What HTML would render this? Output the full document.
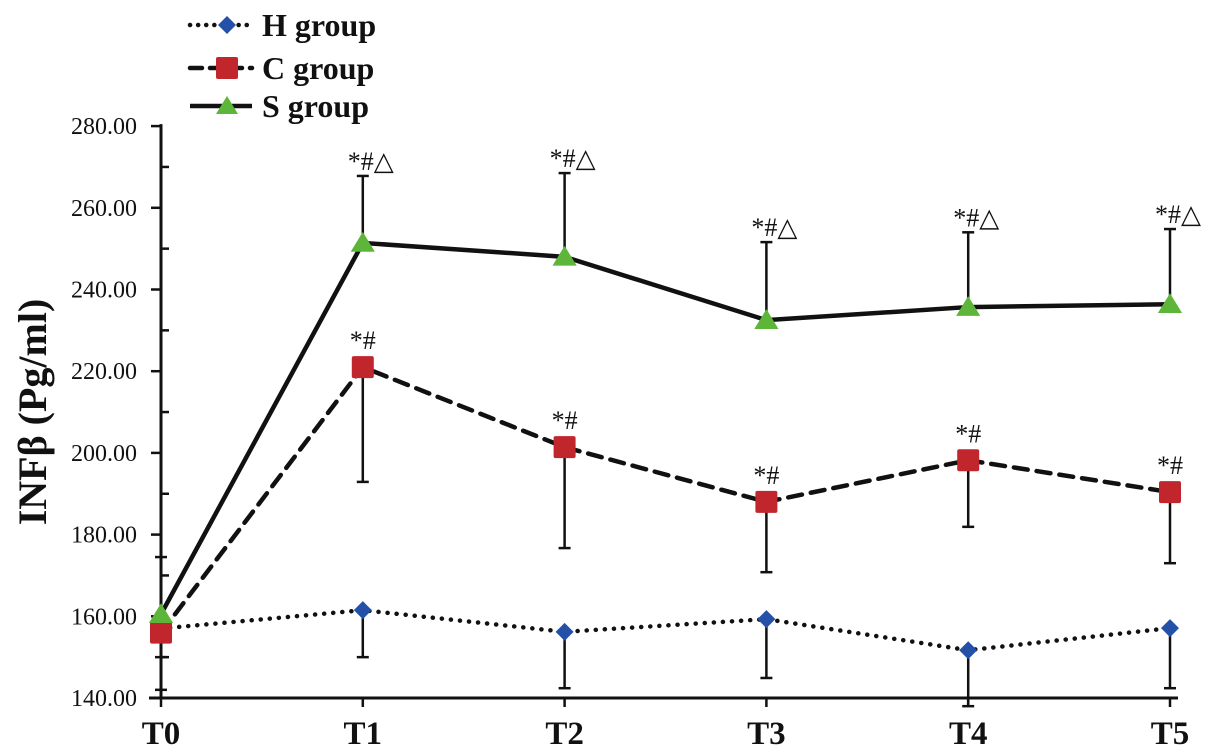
<!DOCTYPE html>
<html><head><meta charset="utf-8"><style>
html,body{margin:0;padding:0;background:#fff;width:1205px;height:756px;overflow:hidden}
svg{display:block}
.tk{font-family:"Liberation Serif","Noto Serif CJK SC",serif;font-size:24px;fill:#111}
.xl{font-family:"Liberation Serif",serif;font-size:33px;font-weight:bold;fill:#111}
.lg{font-family:"Liberation Serif",serif;font-size:32px;font-weight:bold;fill:#111}
.yt{font-family:"Liberation Serif",serif;font-size:40px;font-weight:bold;fill:#111}
.an{font-family:"Liberation Serif","DejaVu Sans",serif;font-size:26px;fill:#111}
</style></head><body>
<svg id="c" width="1205" height="756"></svg>
<script>
const categories=["T0","T1","T2","T3","T4","T5"];
const yTicks=[140,160,180,200,220,240,260,280];
const hVals=[157,161.5,156.2,159.3,151.7,157.1];
const hLow=[142,150,142.4,144.9,138,142.4];
const cVals=[156,221,201.4,188,198.2,190.4];
const cLow=[150,192.9,176.7,170.8,181.9,173];
const sVals=[160.5,251.4,248,232.5,235.7,236.4];
const sHigh=[174.5,267.8,268.5,251.6,254,254.8];
const cAnn=["","*#","*#","*#","*#","*#"];
const sAnn=["","*#△","*#△","*#△","*#△","*#△"];
const NS="http://www.w3.org/2000/svg";
const svg=document.getElementById('c');
const X0=161,DX=201.8,Y0=698,YPX=81.7/20;
const x=i=>X0+i*DX, y=v=>Y0-(v-140)*YPX;
function mk(t,a,p){const e=document.createElementNS(NS,t);for(const k in a)e.setAttribute(k,a[k]);(p||svg).appendChild(e);return e;}
let ax=mk('line',{x1:X0,y1:y(280)-2,x2:X0,y2:Y0,stroke:'#111','stroke-width':3});


let bx=mk('line',{x1:X0-12,y1:Y0,x2:x(5)+8,y2:Y0,stroke:'#111','stroke-width':3});


yTicks.forEach(v=>{
 mk('line',{x1:X0-10,y1:y(v),x2:X0,y2:y(v),stroke:'#111','stroke-width':2.5});
 if(v<280) mk('line',{x1:X0,y1:y(v+10),x2:X0+8,y2:y(v+10),stroke:'#111','stroke-width':2.5});
 const t=mk('text',{x:X0-24,y:y(v)+8,'text-anchor':'end',class:'tk'});t.textContent=v.toFixed(2);
 
 
});
categories.forEach((c,i)=>{
 mk('line',{x1:x(i),y1:Y0,x2:x(i),y2:Y0+9,stroke:'#111','stroke-width':2.5});
 const t=mk('text',{x:x(i),y:Y0+46,'text-anchor':'middle',class:'xl'});t.textContent=c;
 
 
});
const yl=mk('text',{x:0,y:0,transform:'translate(46,412) rotate(-90)','text-anchor':'middle',class:'yt'});yl.textContent='INFβ (Pg/ml)';


function err(vals,ends){vals.forEach((v,i)=>{
 mk('line',{x1:x(i),y1:y(v),x2:x(i),y2:y(ends[i]),stroke:'#111','stroke-width':2.5});
 mk('line',{x1:x(i)-6,y1:y(ends[i]),x2:x(i)+6,y2:y(ends[i]),stroke:'#111','stroke-width':2.5});
});}
err(hVals,hLow);err(cVals,cLow);err(sVals,sHigh);
function line(vals,dash,w,name){const p=mk('polyline',{points:vals.map((v,i)=>x(i)+','+y(v)).join(' '),fill:'none',stroke:'#111','stroke-width':w,'stroke-dasharray':dash,'stroke-linecap':dash?'round':'butt'});
 
 }
line(hVals,'0.1 9',4.5,'h-group-line');
line(cVals,'14 9',4.5,'c-group-line');
line(sVals,'',4.5,'s-group-line');
function dia(cx,cy,r){return mk('polygon',{points:`${cx},${cy-r} ${cx+r},${cy} ${cx},${cy+r} ${cx-r},${cy}`,fill:'#2550a8'});}
function sq(cx,cy,r){return mk('rect',{x:cx-r,y:cy-r,width:2*r,height:2*r,fill:'#c0262c',rx:2});}
function tri(cx,cy,r){return mk('polygon',{points:`${cx},${cy-r} ${cx+r*1.1},${cy+r*0.8} ${cx-r*1.1},${cy+r*0.8}`,fill:'#5db53a'});}
hVals.forEach((v,i)=>{const m=dia(x(i),y(v),9);});
cVals.forEach((v,i)=>{const m=sq(x(i),y(v),11);});
sVals.forEach((v,i)=>{const m=tri(x(i),y(v),11);});
cAnn.forEach((a,i)=>{if(!a)return;const t=mk('text',{x:x(i),y:y(cVals[i])-18,'text-anchor':'middle',class:'an'});t.textContent=a;
 });
sAnn.forEach((a,i)=>{if(!a)return;const t=mk('text',{x:x(i)+8,y:y(sHigh[i])-6,'text-anchor':'middle',class:'an'});t.textContent=a;
 });
const lg=mk('g',{});
[[25,'0.1 8','H group',dia],[68,'12 8','C group',sq],[106,'','S group',tri]].forEach(([yy,d,lab,f])=>{
 mk('line',{x1:190,y1:yy,x2:252,y2:yy,stroke:'#111','stroke-width':4.5,'stroke-dasharray':d,'stroke-linecap':d?'round':'butt'},lg);
 const m=f(227,yy,f===sq?11:(f===dia?9:10));lg.appendChild(m);
 const t=mk('text',{x:262,y:yy+11,class:'lg'},lg);t.textContent=lab;
 
});
</script>
</body></html>
